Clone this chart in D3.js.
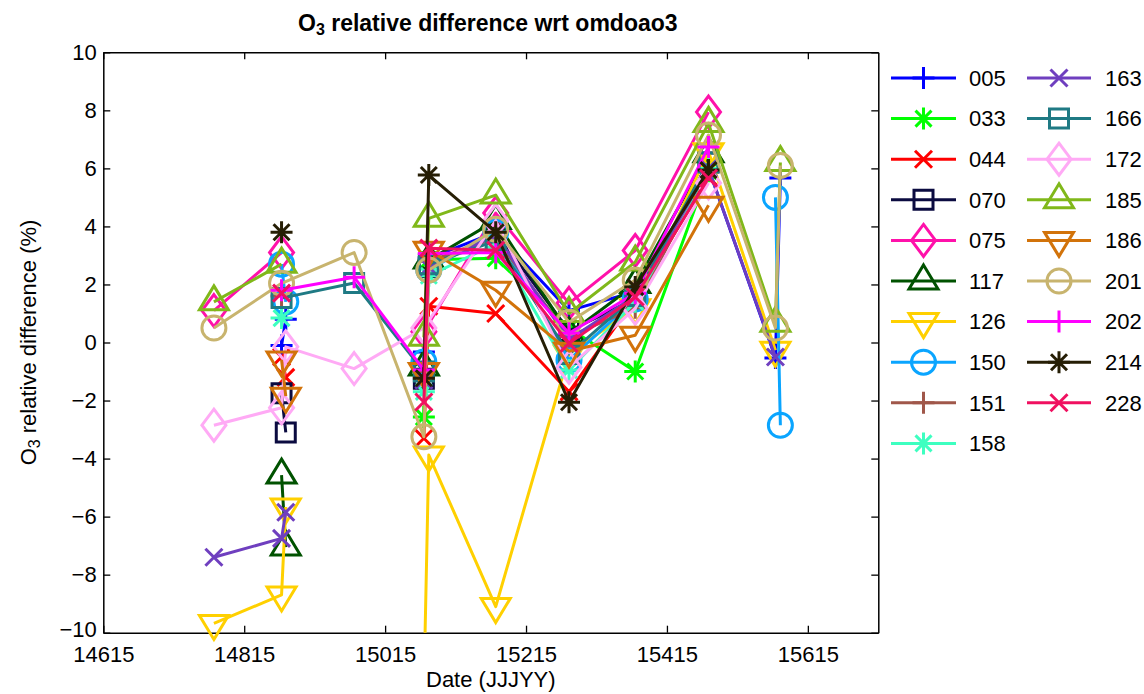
<!DOCTYPE html>
<html>
<head>
<meta charset="utf-8">
<script src="https://cdn.jsdelivr.net/npm/d3@7"></script>
<style>
  body { margin: 0; background: #fff; }
  text { font-family: "Liberation Sans", Arial, Helvetica, sans-serif; fill: #000; }
</style>
</head>
<body>
<svg id="chart" width="1144" height="694"></svg>
<script>
// Observation dates (JJJYY); some days appear twice as a close pair
const dates = [14772, 14868, 14874, 14971, 15070, 15077, 15172, 15276, 15370, 15474, 15569, 15576];

// null = station has no sample on that date (skipped, line continues)
// NaN  = gap in the record (line is broken there)
const N = null, G = NaN;

const stations = ["005", "033", "044", "070", "075", "117", "126", "150", "151", "158",
                  "163", "166", "172", "185", "186", "201", "202", "214", "228"];

const s005 = [N, -0.1, 0.8, G, -0.33, 2.9, 3.8, 1.1, 1.75, 6.0, -0.53, 5.67];
const s033 = [N, N, N, G, -2.57, 2.85, 2.9, 0.5, -1.0, 5.9, N, N];
const s044 = [N, -0.5, -1.2, G, -3.3, 1.25, 1.0, -1.7, 1.5, 5.7, N, N];
const s070 = [N, -1.75, -3.1, G, -1.25, 2.6, 3.8, 0.4, 1.5, 6.2, N, N];
const s075 = [1.1, 3.1, N, G, 0.37, N, 4.46, 1.35, 3.17, 7.94, N, N];
const s117 = [N, -4.57, -7.05, G, -0.84, 2.84, 4.2, 0.3, 2.0, 6.5, N, N];
const s126 = [-9.68, -8.7, -5.67, G, -12, -3.88, -9.1, -0.4, 1.2, 6.57, -0.27, N];
const s150 = [N, 2.7, 1.4, G, -0.67, 2.5, 3.8, -0.6, 1.5, G, 5.0, -2.85];
const s151 = [N, 1.6, N, G, -1.0, 2.8, 3.6, 0.2, 1.2, 6.0, N, N];
const s158 = [N, 0.84, N, G, -1.7, 2.3, 3.4, -0.95, 1.4, 6.0, N, N];
const s163 = [-7.4, -6.75, -5.85, G, -1.3, 2.6, 3.7, 0.1, 1.6, 6.0, -0.5, N];
const s166 = [N, 1.53, N, 2.05, -1.0, 2.7, 3.5, -0.4, 1.6, 6.2, N, N];
const s172 = [-2.85, -2.25, -0.15, -0.9, 0.5, N, 4.2, -0.85, 1.18, 5.5, N, N];
const s185 = [1.4, 2.7, N, G, 0.18, 4.28, 5.08, 1.0, 2.77, 7.55, 0.66, 6.2];
const s186 = [N, -0.6, -1.85, G, -1.0, 3.18, 1.8, -0.3, 0.25, 4.73, N, N];
const s201 = [0.5, 2.04, N, 3.1, -3.25, 2.5, 3.9, 0.7, 2.15, 7.15, 0.5, 6.1];
const s202 = [N, 1.8, N, 2.25, -0.95, 3.07, 3.1, 0.32, 1.7, 6.74, N, N];
const s214 = [N, 3.8, N, G, -1.23, 5.77, 3.8, -2.06, 1.91, 5.94, N, N];
const s228 = [N, 1.7, N, G, -2.05, 3.25, 3.18, -0.03, 1.57, 5.66, N, N];

const seriesValues = [s005, s033, s044, s070, s075, s117, s126, s150, s151, s158,
                      s163, s166, s172, s185, s186, s201, s202, s214, s228];

const colors = ["#0000ff", "#00ff00", "#ff0000", "#0b0b40", "#ff11aa", "#005200", "#ffd000",
                "#0aa5ff", "#a0574a", "#3dffc0", "#6f3fbf", "#1f7a84", "#ffaaf5", "#80b81a",
                "#d2730a", "#c8b46e", "#ff00ff", "#261e05", "#f01060"];
const markers = ["plus", "star", "cross", "square", "diamond", "up", "down", "circle", "plus", "star",
                 "cross", "square", "diamond", "up", "down", "circle", "plus", "star", "cross"];

const xTicks = [14615, 14815, 15015, 15215, 15415, 15615];
const yTicks = [-10, -8, -6, -4, -2, 0, 2, 4, 6, 8, 10];

// ---- layout ----
const pLeft = 103.3, pRight = 878.3, pTop = 52.3, pBottom = 632.7;
const x = d3.scaleLinear().domain([14615, 15715]).range([pLeft, pRight]);
const y = d3.scaleLinear().domain([-10, 10]).range([pBottom, pTop]);

const svg = d3.select("#chart");

svg.append("defs").append("clipPath").attr("id", "plotClip")
  .append("rect").attr("x", pLeft).attr("y", pTop)
  .attr("width", pRight - pLeft).attr("height", pBottom - pTop);

// marker glyphs, centred on the data point
const glyph = {
  plus:    "M-11,0H11M0,-11V11",
  star:    "M-11,0H11M0,-11V11M-8,-8L8,8M-8,8L8,-8",
  cross:   "M-8.5,-8.5L8.5,8.5M-8.5,8.5L8.5,-8.5",
  square:  "M-9.5,-9.5H9.5V9.5H-9.5Z",
  diamond: "M0,-16L12,0L0,16L-12,0Z",
  up:      "M0,-16L14.5,8L-14.5,8Z",
  down:    "M0,16L14.5,-8L-14.5,-8Z",
  circle:  "M12,0A12,12 0 1,1 -12,0A12,12 0 1,1 12,0Z"
};

// ---- axes (ticks point inward, box on all four sides) ----
const fs = 22;
const gx = svg.append("g").attr("transform", `translate(0,${pBottom})`)
  .call(d3.axisBottom(x).tickValues(xTicks).tickFormat(d3.format("d"))
        .tickSizeInner(-7).tickSizeOuter(0).tickPadding(14));
const gy = svg.append("g").attr("transform", `translate(${pLeft},0)`)
  .call(d3.axisLeft(y).tickValues(yTicks).tickFormat(d3.format("d"))
        .tickSizeInner(-7).tickSizeOuter(0).tickPadding(6.6));
const gt = svg.append("g").attr("transform", `translate(0,${pTop})`)
  .call(d3.axisTop(x).tickValues(xTicks).tickFormat("").tickSizeInner(-7).tickSizeOuter(0));
const gr = svg.append("g").attr("transform", `translate(${pRight},0)`)
  .call(d3.axisRight(y).tickValues(yTicks).tickFormat("").tickSizeInner(-7).tickSizeOuter(0));

[gx, gy, gt, gr].forEach(g => {
  g.selectAll(".domain").attr("stroke", "#000").attr("stroke-width", 1.5);
  g.selectAll(".tick line").attr("stroke", "#000").attr("stroke-width", 1.3);
  g.selectAll("text").attr("font-size", fs).attr("font-family", null).style("fill", "#000");
});
// keep the lowest y label clear of the first date label
gy.selectAll(".tick text").filter(d => d === -10).attr("dy", "0.18em");

// ---- series ----
const line = d3.line()
  .defined(p => !Number.isNaN(p.v))
  .x(p => x(p.d)).y(p => y(p.v));

const plot = svg.append("g");
seriesValues.forEach((vals, i) => {
  const pts = dates.map((d, j) => ({ d, v: vals[j] })).filter(p => p.v !== null);
  const g = plot.append("g").attr("stroke", colors[i]).attr("fill", "none");
  g.append("path").attr("d", line(pts)).attr("stroke-width", 3)
    .attr("stroke-linejoin", "round").attr("clip-path", "url(#plotClip)");
  g.selectAll("path.m")
    .data(pts.filter(p => !Number.isNaN(p.v) && p.v >= -10 && p.v <= 10))
    .join("path").attr("class", "m")
    .attr("d", glyph[markers[i]])
    .attr("transform", p => `translate(${x(p.d)},${y(p.v)})`)
    .attr("stroke-width", 3);
});

// ---- legend (two columns) ----
const leg = svg.append("g");
stations.forEach((name, i) => {
  const col = i < 10 ? 0 : 1, row = i % 10;
  const lx0 = col === 0 ? 891 : 1027, lx1 = col === 0 ? 956 : 1091;
  const tx = col === 0 ? 969 : 1105;
  const ly = 78 + row * 40.6;
  const g = leg.append("g").attr("stroke", colors[i]).attr("fill", "none");
  g.append("line").attr("x1", lx0).attr("x2", lx1).attr("y1", ly).attr("y2", ly).attr("stroke-width", 3);
  g.append("path").attr("d", glyph[markers[i]])
    .attr("transform", `translate(${(lx0 + lx1) / 2},${ly})`).attr("stroke-width", 3);
  leg.append("text").attr("x", tx).attr("y", ly).attr("dy", "0.35em")
    .attr("font-size", fs).text(name);
});

// ---- titles ----
const title = svg.append("text").attr("x", 298).attr("y", 31)
  .attr("font-size", 23).attr("font-weight", "bold");
title.append("tspan").text("O");
title.append("tspan").attr("font-size", 16).attr("dy", 4).text("3");
title.append("tspan").attr("dy", -4).text(" relative difference wrt omdoao3");

svg.append("text").attr("x", (pLeft + pRight) / 2).attr("y", 687)
  .attr("text-anchor", "middle").attr("font-size", fs).text("Date (JJJYY)");

const yl = svg.append("text")
  .attr("transform", `translate(36,${(pTop + pBottom) / 2}) rotate(-90)`)
  .attr("text-anchor", "middle").attr("font-size", fs);
yl.append("tspan").text("O");
yl.append("tspan").attr("font-size", 16).attr("dy", 4).text("3");
yl.append("tspan").attr("dy", -4).text(" relative difference (%)");
</script>
</body>
</html>
